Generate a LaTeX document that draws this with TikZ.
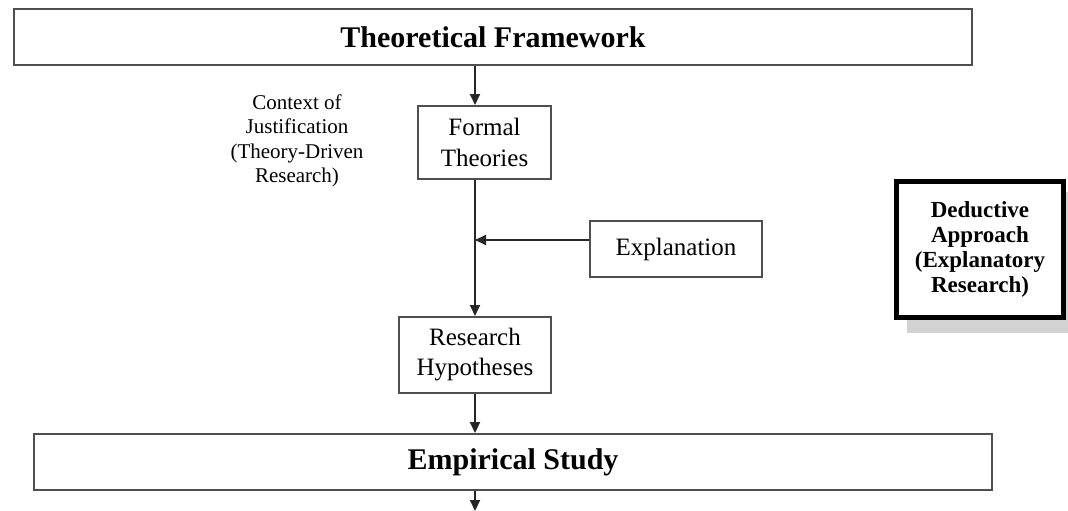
\documentclass[tikz,border=0pt]{standalone}
\usepackage{fontspec}
\setmainfont{Liberation Serif}
\usetikzlibrary{arrows.meta}
\definecolor{linegray}{HTML}{4F4F4F}
\definecolor{shadowgray}{HTML}{D2D2D2}
\begin{document}
\begin{tikzpicture}[x=1pt,y=-1pt,
  box/.style={draw=linegray, line width=2pt, fill=white, inner sep=0pt, align=center},
  conn/.style={draw=black!85, line width=2pt, -{Triangle[width=10pt,length=11pt]}},
  plain/.style={draw=black!85, line width=2pt}]
\useasboundingbox (0,0) rectangle (1068,511);
% header box
\node[box, minimum width=958pt, minimum height=56pt, font=\fontsize{30}{34}\selectfont\bfseries] (theo) at (493,37) {Theoretical Framework};
% context text
\node[align=center, font=\fontsize{21}{24.5}\selectfont] (ctx) at (297,141) {Context of\\Justification\\(Theory-Driven\\Research)};
% formal theories
\node[box, minimum width=133pt, minimum height=73pt, font=\fontsize{25}{31}\selectfont] (formal) at (484.5,142.5) {Formal\\Theories};
% explanation
\node[box, minimum width=172pt, minimum height=56pt, font=\fontsize{25}{30}\selectfont] (expl) at (676,249) {Explanation};
% research hypotheses
\node[box, minimum width=152pt, minimum height=76pt, font=\fontsize{25}{30}\selectfont] (rh) at (475,355) {Research\\Hypotheses};
% empirical
\node[box, minimum width=958pt, minimum height=56pt, font=\fontsize{30}{34}\selectfont\bfseries] (emp) at (513,462) {Empirical Study};
% deductive approach with shadow
\fill[shadowgray] (907,192) rectangle (1068,333);
\node[draw=black, line width=5pt, fill=white, inner sep=0pt, minimum width=167pt, minimum height=136pt, align=center, font=\fontsize{23}{25}\selectfont\bfseries] (ded) at (980,249.5) {Deductive\\Approach\\(Explanatory\\Research)};
% connectors
\coordinate (jn) at (475,240);
\coordinate (out) at (475,511);
\draw[conn] (theo.south -| jn) -- (formal.north -| jn);
\draw[conn] (formal.south -| jn) -- (rh.north -| jn);
\draw[conn] (expl.west |- jn) -- (jn);
\draw[conn] (rh.south -| jn) -- (emp.north -| jn);
\draw[conn] (emp.south -| jn) -- (out);
\end{tikzpicture}
\end{document}
